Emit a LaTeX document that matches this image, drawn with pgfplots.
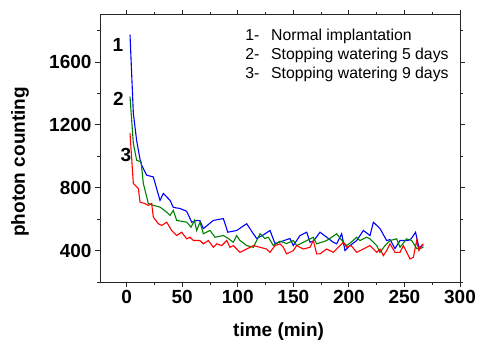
\documentclass[border=0pt]{standalone}
\usepackage{pgfplots}
\pgfplotsset{compat=1.18}
\usepackage{fontspec}
\setmainfont{Liberation Sans}
\definecolor{dgreen}{RGB}{0,128,0}
\begin{document}
\begin{tikzpicture}[x=1bp,y=1bp]
\path[use as bounding box] (0,0) rectangle (477,346);
\begin{axis}[
  at={(100bp,64bp)}, anchor=south west,
  scale only axis, width=360bp, height=267bp,
  xmin=-24, xmax=300, ymin=200, ymax=1900,
  xtick={0,50,...,300}, ytick={400,800,1200,1600},
  minor xtick={-25,25,75,125,175,225,275},
  minor ytick={200,600,1000,1400,1800},
  tick align=outside,
  major tick length=5bp, minor tick length=3bp,
  axis line style={line width=1bp, black!85},
  every tick/.style={black!85, line width=1bp},
  /pgf/number format/assume math mode=true,
  /pgf/number format/set thousands separator={},
  tick label style={font=\fontsize{19bp}{22bp}\selectfont\bfseries},
  xlabel={time (min)}, ylabel={photon counting},
  label style={font=\fontsize{19bp}{22bp}\selectfont\bfseries},
  xlabel style={at={(axis description cs:0.496,-0.187)}, anchor=center},
  ylabel style={at={(axis description cs:-0.222,0.45)}, anchor=center, rotate=0},
  clip=false,
]
\addplot[blue, line width=1.1bp] coordinates {
(3,1775)(6,1274)(9,1100)(12,982)(13.5,943)(18,880)(24,869)(30,720)(33,764)(39,720)(42,675)(48,668)(54,650)(58.5,581)(63,592)(66,590)(69,540)(78,592)(87,604)(91,517)(99,528)(108,571)(114,507)(117,477)(123,500)(129,528)(133.5,445)(138,455)(147,477)(150,432)(156,496)(162,517)(165,453)(168,460)(174,517)(180,485)(186,453)(189,443)(193.5,507)(196.5,400)(201,432)(207,464)(213,528)(219,496)(222,581)(228,540)(234,464)(237,470)(241.5,413)(246,464)(253,464)(256,475)(260,517)(263,421)(267,432)
};
\addplot[dgreen, line width=1.1bp] coordinates {
(3,1380)(6,1083)(9,975)(13,965)(15,827)(19.5,700)(24,688)(30,677)(36,645)(39,624)(42,656)(45,592)(54,581)(58,549)(61,592)(63,528)(66,581)(69,507)(75,528)(79.5,485)(87,496)(91.5,477)(96,453)(99,496)(102,464)(108,432)(114,421)(120,507)(124.5,477)(127.5,485)(132,432)(138,460)(144,445)(150,464)(153,432)(159,453)(168,485)(171,443)(180,464)(189,507)(195,453)(198,432)(202,453)(207,485)(210,464)(216,485)(219,475)(225,432)(228,389)(232.5,432)(237,464)(243,475)(246,421)(252,475)(256.5,464)(261,413)(264,413)(267,421)
};
\addplot[red, line width=1.1bp] coordinates {
(3,1147)(6,827)(10.5,795)(12,709)(16.5,699)(19.5,688)(22.5,700)(24,613)(28.5,571)(31.5,560)(36,581)(40.5,528)(45,496)(49.5,517)(54,475)(57,485)(60,464)(66,464)(69,443)(73.5,464)(78,421)(81,443)(85.5,432)(90,464)(93,421)(96,432)(102,389)(108,410)(114,432)(120,421)(126,410)(129,389)(133.5,432)(138,443)(141,421)(144,379)(150,400)(153,432)(159,410)(165,421)(168,464)(171,379)(174,379)(180,410)(186,389)(192,432)(195,453)(198,421)(202,432)(207,389)(213,410)(219,432)(225,389)(228,410)(231,368)(234,400)(237,443)(241.5,389)(246,389)(249,432)(255,347)(258,357)(261,464)(263,400)(265.5,432)(267,443)
};
\begin{scope}[every node/.style={font=\fontsize{19bp}{22bp}\selectfont\bfseries, inner sep=0pt}]
\node at (axis description cs:0.05,0.888) {1};
\node at (axis description cs:0.051,0.685) {2};
\node at (axis description cs:0.072,0.476) {3};
\end{scope}
\begin{scope}[every node/.style={font=\fontsize{15.8bp}{18bp}\selectfont, inner sep=0pt, anchor=base west}]
\node at (axis description cs:0.403,0.906) {1-\hspace{0.75em}Normal implantation};
\node at (axis description cs:0.403,0.835) {2-\hspace{0.75em}Stopping watering 5 days};
\node at (axis description cs:0.403,0.764) {3-\hspace{0.75em}Stopping watering 9 days};
\end{scope}
\end{axis}
\end{tikzpicture}
\end{document}
